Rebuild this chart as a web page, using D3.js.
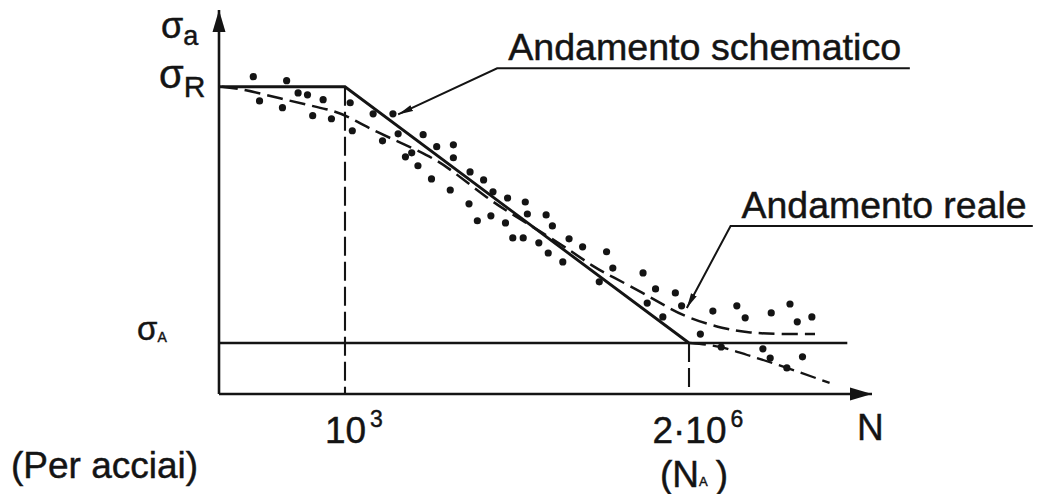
<!DOCTYPE html>
<html>
<head>
<meta charset="utf-8">
<script src="https://cdn.jsdelivr.net/npm/d3@7"></script>
<style>
  html, body { margin: 0; padding: 0; background: #fff; }
  svg { display: block; }
  text { font-family: "Liberation Sans", Arial, Helvetica, sans-serif; fill: #141414; stroke: #141414; stroke-width: 0.45px; }
</style>
</head>
<body>
<svg id="chart" width="1037" height="494"></svg>
<script>
// Wöhler (S–N) curve for steels: schematic law vs. measured behaviour.
// Horizontal axis: log10 of the number of cycles N.
// Vertical axis: stress amplitude σa as a percentage of the tensile strength σR.

const sigmaR = 100;
const sigmaA = 16.6;
const kneeLogN = 3;                      // 10^3 cycles
const enduranceLogN = Math.log10(2e6);   // N_A = 2·10^6 cycles
const schematicEndLogN = 7.82;

// Fatigue test results
const testLogN = [
  2.12, 2.44, 2.55, 2.64, 2.18, 2.40, 2.79, 2.69, 2.87, 3.05,
  3.07, 3.27, 3.46, 3.51, 3.36, 3.75, 3.88, 4.04, 4.04, 3.58,
  3.64, 3.70, 3.83, 4.01, 4.20, 4.33, 4.42, 4.19, 4.27, 4.40,
  4.56, 4.73, 4.75, 4.54, 4.61, 4.71, 4.93, 4.99, 4.86, 4.95,
  5.15, 5.28, 5.09, 5.51, 5.57, 5.86, 5.44, 5.98, 6.17, 6.23,
  5.90, 6.05, 6.53, 6.76, 6.84, 7.09, 7.27, 7.34, 7.48, 6.41,
  6.61, 7.01, 7.08, 7.39, 7.24
];
const testSigma = [
  103.3, 102.0, 98.0, 97.4, 95.4, 93.2, 95.8, 90.6, 89.6, 94.8,
  85.7, 91.2, 91.2, 84.7, 82.4, 84.4, 80.5, 81.1, 76.9, 77.2,
  78.5, 74.3, 70.0, 66.4, 72.3, 69.7, 65.8, 61.9, 56.4, 58.0,
  63.8, 62.5, 58.6, 55.7, 50.8, 50.8, 58.3, 54.7, 49.2, 45.9,
  50.5, 47.9, 43.0, 46.3, 41.0, 39.4, 36.5, 34.2, 32.9, 28.7,
  29.6, 25.1, 27.0, 28.7, 24.8, 26.4, 29.3, 23.5, 25.1, 19.5,
  15.3, 14.7, 11.7, 12.1, 8.5
];

// Measured trend ("andamento reale")
const realLogN = [
  1.82, 2.02, 2.47, 2.86, 3.00, 3.27, 3.84, 4.03, 4.39, 4.55,
  5.13, 5.38, 5.57, 5.86, 6.09, 6.29, 6.63, 6.89, 7.15, 7.51
];
const realSigma = [
  100.0, 99.3, 95.4, 92.5, 90.9, 85.7, 77.2, 72.6, 63.2, 59.6,
  47.6, 41.4, 38.1, 32.9, 28.3, 24.8, 21.2, 19.9, 19.5, 19.5
];

// Continued decline beyond N_A
const declineLogN = [6.31, 6.60, 6.86, 7.24, 7.65];
const declineSigma = [16.6, 15.3, 12.7, 8.5, 3.6];

// Axis labels
const xTickValues = [kneeLogN, enduranceLogN];
const xTickBase = ["10", "2·10"];
const xTickExp = ["3", "6"];

// Leader notes
const noteText = ["Andamento schematico", "Andamento reale"];
const noteTipLogN = [3.51, 6.28];
const noteTipSigma = [91.0, 28.0];
const noteElbowLogN = [4.46, 6.70];
const noteElbowSigma = [106.0, 54.7];
const noteEndLogN = [8.42, 9.60];

// ---------------------------------------------------------------------------
const svg = d3.select("#chart");
const W = 1037, H = 494;
const margin = { top: 10, right: 165, bottom: 100, left: 219 };

const x = d3.scaleLinear().domain([1.791, 8.057]).range([margin.left, W - margin.right]);
const y = d3.scaleLinear().domain([0, 125]).range([H - margin.bottom, margin.top]);

const ink = "#141414";
const defs = svg.append("defs");

// axis arrowheads
defs.append("marker")
  .attr("id", "axisArrow")
  .attr("markerUnits", "userSpaceOnUse")
  .attr("viewBox", "0 -7 22 14")
  .attr("refX", 22).attr("refY", 0)
  .attr("markerWidth", 22).attr("markerHeight", 14)
  .attr("orient", "auto")
  .append("path").attr("d", "M0,-6.5L22,0L0,6.5Z").attr("fill", ink);

// leader arrowheads
defs.append("marker")
  .attr("id", "noteArrow")
  .attr("markerUnits", "userSpaceOnUse")
  .attr("viewBox", "0 -4 15 8")
  .attr("refX", 15).attr("refY", 0)
  .attr("markerWidth", 15).attr("markerHeight", 8)
  .attr("orient", "auto")
  .append("path").attr("d", "M0,-3.2L15,0L0,3.2Z").attr("fill", ink);

// --- axes -------------------------------------------------------------------
const xAxis = d3.axisBottom(x)
  .tickValues(xTickValues)
  .tickSize(0)
  .tickSizeOuter(0)
  .tickPadding(18);

const gx = svg.append("g")
  .attr("transform", `translate(0,${y(0)})`)
  .call(xAxis);

gx.select(".domain")
  .attr("d", `M${x.range()[0]},0H${x.range()[1]}`)
  .attr("stroke", ink).attr("stroke-width", 2.6)
  .attr("marker-end", "url(#axisArrow)");

gx.selectAll(".tick text").each(function (d, i) {
  const t = d3.select(this)
    .text(null)
    .attr("font-size", 37)
    .attr("font-family", "Liberation Sans, Arial, sans-serif")
    .attr("fill", ink)
    .attr("text-anchor", "middle")
    .attr("dy", null)
    .attr("y", 49);
  t.append("tspan").text(xTickBase[i]);
  t.append("tspan").attr("font-size", 23).attr("dx", 4).attr("dy", -16).text(xTickExp[i]);
});
// keep the base centred on the tick, the exponent hanging to the right
gx.selectAll(".tick text").attr("text-anchor", "start").each(function (d, i) {
  const base = d3.select(this).select("tspan").node().getComputedTextLength();
  d3.select(this).attr("x", -base / 2);
});

const yAxisX = x.range()[0];
svg.append("line")
  .attr("x1", yAxisX).attr("x2", yAxisX)
  .attr("y1", y(0)).attr("y2", y.range()[1])
  .attr("stroke", ink).attr("stroke-width", 2.6)
  .attr("marker-end", "url(#axisArrow)");

// "N" axis title
svg.append("text")
  .attr("x", x.range()[1] - 15).attr("y", y(0) + 46)
  .attr("font-size", 37).text("N");

// "(N_A)" under the endurance tick
const naLabel = svg.append("text")
  .attr("x", x(enduranceLogN) - 29).attr("y", y(0) + 93)
  .attr("font-size", 37);
naLabel.append("tspan").text("(N");
naLabel.append("tspan").attr("font-size", 13).attr("dy", -1).text("A");
naLabel.append("tspan").attr("dy", 1).attr("dx", 8).text(")");

// stress labels on the vertical axis
function sigmaLabel(px, baseline, sub, sigmaSize, subSize, subShift) {
  const t = svg.append("text").attr("x", px).attr("y", baseline).attr("font-size", sigmaSize);
  t.append("tspan").text("σ");
  t.append("tspan").attr("font-size", subSize).attr("dy", subShift).text(sub);
}
sigmaLabel(161, y(116), "a", 36, 27, 7);
sigmaLabel(159, y(sigmaR) + 1, "R", 40, 30, 9);
sigmaLabel(137, y(sigmaA) - 3, "A", 33, 14, 2);

// "(Per acciai)"
svg.append("text").attr("x", 11).attr("y", 478).attr("font-size", 37).text("(Per acciai)");

// --- reference lines -------------------------------------------------------
const line = d3.line().x(d => x(d[0])).y(d => y(d[1]));

// endurance-limit level σA
svg.append("path")
  .attr("d", line([[x.domain()[0], sigmaA], [schematicEndLogN, sigmaA]]))
  .attr("fill", "none").attr("stroke", ink).attr("stroke-width", 2.4);

// dashed verticals at 10^3 and N_A
svg.append("path")
  .attr("d", line([[kneeLogN, sigmaR], [kneeLogN, 0]]))
  .attr("fill", "none").attr("stroke", ink).attr("stroke-width", 2.1)
  .attr("stroke-dasharray", "19,6");
svg.append("path")
  .attr("d", line([[enduranceLogN, sigmaA], [enduranceLogN, 0]]))
  .attr("fill", "none").attr("stroke", ink).attr("stroke-width", 2.1)
  .attr("stroke-dasharray", "19,6");

// schematic law: plateau, straight decline, endurance limit
svg.append("path")
  .attr("d", line([[x.domain()[0], sigmaR], [kneeLogN, sigmaR], [enduranceLogN, sigmaA]]))
  .attr("fill", "none").attr("stroke", ink).attr("stroke-width", 2.9)
  .attr("stroke-linejoin", "miter");

// measured trend
svg.append("path")
  .attr("d", d3.line().curve(d3.curveBasis).x(d => x(d[0])).y(d => y(d[1]))(realLogN.map((v, i) => [v, realSigma[i]])))
  .attr("fill", "none").attr("stroke", ink).attr("stroke-width", 2.5)
  .attr("stroke-dasharray", "16,7");

// decline past N_A
svg.append("path")
  .attr("d", d3.line().curve(d3.curveMonotoneX).x(d => x(d[0])).y(d => y(d[1]))(declineLogN.map((v, i) => [v, declineSigma[i]])))
  .attr("fill", "none").attr("stroke", ink).attr("stroke-width", 2.3)
  .attr("stroke-dasharray", "16,7");

// test points
svg.append("g").selectAll("circle")
  .data(testLogN.map((v, i) => [v, testSigma[i]]))
  .join("circle")
  .attr("cx", d => x(d[0])).attr("cy", d => y(d[1]))
  .attr("r", 3.6).attr("fill", ink);

// --- leader notes ----------------------------------------------------------
const noteWidth = [393, 285];
noteText.forEach((txt, i) => {
  const ex = x(noteElbowLogN[i]), ey = y(noteElbowSigma[i]);
  svg.append("path")
    .attr("d", `M${x(noteEndLogN[i])},${ey}H${ex}L${x(noteTipLogN[i])},${y(noteTipSigma[i])}`)
    .attr("fill", "none").attr("stroke", ink).attr("stroke-width", 2)
    .attr("marker-end", "url(#noteArrow)");
  svg.append("text")
    .attr("x", ex + 11).attr("y", ey - 8)
    .attr("font-size", 37)
    .attr("textLength", noteWidth[i])
    .attr("lengthAdjust", "spacingAndGlyphs")
    .text(txt);
});
</script>
</body>
</html>
